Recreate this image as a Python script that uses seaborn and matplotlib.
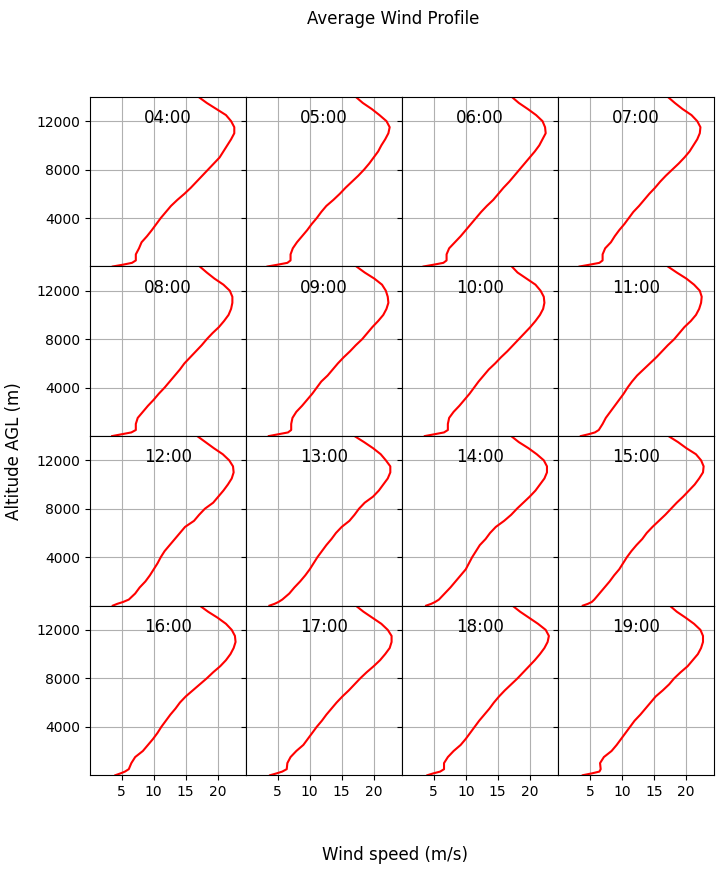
import matplotlib
matplotlib.use("Agg")
import matplotlib.pyplot as plt
import seaborn as sns
import pandas as pd

hours = ["04:00", "05:00", "06:00", "07:00", "08:00", "09:00", "10:00", "11:00",
         "12:00", "13:00", "14:00", "15:00", "16:00", "17:00", "18:00", "19:00"]

altitude = [0, 150, 300, 500, 1000, 1500, 2000, 2500, 3000, 3500, 4000, 4500, 5000,
            5500, 6000, 6500, 7000, 7500, 8000, 8500, 9000, 9500, 10000, 10500,
            11000, 11500, 12000, 12500, 13000, 13500, 14000, 14500]

speed_04 = [3.6, 5.2, 6.6, 7.2, 7.2, 7.7, 8.1, 8.95, 9.7, 10.4, 11.1, 11.9, 12.7, 13.7, 14.8, 15.8,
            16.7, 17.6, 18.5, 19.4, 20.3, 20.9, 21.5, 22.1, 22.6, 22.6, 22.1, 21.3, 19.8, 18.3, 17.0, 15.7]
speed_05 = [3.4, 5.0, 6.5, 7.0, 7.0, 7.35, 8.0, 8.8, 9.6, 10.3, 11.1, 11.8, 12.6, 13.7, 14.7, 15.6,
            16.6, 17.6, 18.5, 19.3, 20.0, 20.7, 21.2, 21.8, 22.3, 22.5, 22.0, 20.9, 19.7, 18.3, 17.2, 16.0]
speed_06 = [3.4, 5.0, 6.5, 7.0, 7.0, 7.4, 8.3, 9.2, 10.0, 10.8, 11.6, 12.4, 13.3, 14.3, 15.1, 15.9,
            16.8, 17.6, 18.4, 19.2, 20.0, 20.8, 21.5, 22.0, 22.5, 22.4, 22.0, 21.0, 19.7, 18.3, 17.2, 16.0]
speed_07 = [3.4, 5.0, 6.5, 7.0, 7.0, 7.4, 8.3, 8.9, 9.6, 10.4, 11.1, 11.8, 12.7, 13.5, 14.3, 15.2,
            16.0, 16.9, 17.9, 18.9, 19.8, 20.6, 21.2, 21.8, 22.2, 22.3, 21.8, 20.9, 19.5, 18.3, 17.2, 16.0]
speed_08 = [3.5, 5.0, 6.5, 7.2, 7.2, 7.5, 8.3, 9.1, 10.0, 10.8, 11.7, 12.5, 13.3, 14.1, 14.8, 15.7,
            16.6, 17.5, 18.3, 19.2, 20.2, 21.0, 21.7, 22.1, 22.3, 22.3, 21.9, 20.9, 19.5, 18.3, 17.2, 16.0]
speed_09 = [3.6, 5.1, 6.6, 7.1, 7.1, 7.3, 7.9, 8.8, 9.6, 10.4, 11.1, 11.8, 12.8, 13.6, 14.4, 15.3,
            16.3, 17.2, 18.2, 19.0, 19.8, 20.7, 21.5, 22.0, 22.3, 22.2, 21.9, 21.3, 20.1, 18.6, 17.3, 16.0]
speed_10 = [3.6, 5.1, 6.6, 7.2, 7.2, 7.4, 8.1, 9.0, 9.8, 10.6, 11.3, 12.0, 12.8, 13.6, 14.6, 15.5,
            16.5, 17.4, 18.3, 19.2, 20.1, 20.9, 21.6, 22.1, 22.3, 22.2, 21.7, 20.9, 19.5, 18.1, 17.2, 16.0]
speed_11 = [3.6, 4.8, 5.8, 6.4, 7.0, 7.5, 8.2, 8.9, 9.6, 10.3, 10.9, 11.6, 12.4, 13.4, 14.4, 15.4,
            16.3, 17.2, 18.2, 19.0, 19.8, 20.8, 21.6, 22.1, 22.4, 22.5, 22.2, 21.3, 20.1, 18.6, 17.2, 16.0]
speed_12 = [3.6, 4.3, 5.2, 6.1, 7.1, 7.8, 8.7, 9.4, 10.0, 10.6, 11.1, 11.7, 12.5, 13.3, 14.1, 14.9,
            16.3, 17.1, 18.0, 19.3, 20.1, 20.9, 21.6, 22.2, 22.5, 22.4, 21.8, 20.8, 19.4, 18.1, 16.8, 15.6]
speed_13 = [3.7, 4.5, 5.1, 5.7, 6.8, 7.6, 8.5, 9.3, 10.0, 10.6, 11.2, 11.9, 12.6, 13.4, 14.1, 15.0,
            16.2, 17.0, 17.7, 18.6, 19.9, 20.8, 21.5, 22.2, 22.6, 22.6, 21.9, 21.1, 19.9, 18.5, 17.0, 15.8]
speed_14 = [3.8, 4.6, 5.2, 5.8, 6.7, 7.6, 8.4, 9.2, 10.0, 10.5, 11.0, 11.6, 12.2, 13.1, 13.8, 14.7,
            16.0, 17.1, 18.0, 19.0, 20.0, 20.9, 21.6, 22.3, 22.7, 22.7, 22.2, 21.1, 19.8, 18.3, 17.1, 15.8]
speed_15 = [3.9, 4.7, 5.3, 5.7, 6.5, 7.3, 8.1, 8.8, 9.6, 10.2, 10.8, 11.5, 12.3, 13.2, 13.9, 14.8,
            15.8, 16.8, 17.7, 18.6, 19.6, 20.5, 21.4, 22.1, 22.7, 22.8, 22.4, 21.6, 20.1, 18.8, 17.3, 16.0]
speed_16 = [4.0, 4.8, 5.5, 6.1, 6.5, 7.1, 8.3, 9.1, 9.9, 10.6, 11.2, 11.9, 12.6, 13.4, 14.1, 15.0,
            16.1, 17.2, 18.3, 19.3, 20.4, 21.3, 22.0, 22.5, 22.8, 22.7, 22.2, 21.3, 20.0, 18.5, 17.2, 16.0]
speed_17 = [3.8, 4.8, 5.7, 6.4, 6.5, 7.0, 7.9, 9.0, 9.7, 10.4, 11.1, 11.9, 12.6, 13.4, 14.2, 15.1,
            16.1, 17.0, 17.9, 18.9, 20.0, 21.0, 21.8, 22.5, 22.8, 22.8, 22.2, 21.2, 19.8, 18.4, 17.2, 16.0]
speed_18 = [4.0, 4.9, 6.0, 6.6, 6.6, 7.2, 8.1, 9.2, 10.0, 10.7, 11.4, 12.1, 12.9, 13.7, 14.4, 15.2,
            16.1, 17.1, 18.1, 19.0, 19.9, 20.8, 21.6, 22.3, 22.8, 23.0, 22.5, 21.3, 19.9, 18.5, 17.3, 16.0]
speed_19 = [3.9, 5.3, 6.5, 6.7, 6.6, 7.2, 8.4, 9.2, 9.9, 10.6, 11.3, 12.0, 12.9, 13.7, 14.5, 15.3,
            16.4, 17.4, 18.2, 19.2, 20.3, 21.1, 21.9, 22.4, 22.7, 22.7, 22.3, 21.3, 20.0, 18.6, 17.5, 16.2]

speeds = [speed_04, speed_05, speed_06, speed_07, speed_08, speed_09, speed_10, speed_11,
          speed_12, speed_13, speed_14, speed_15, speed_16, speed_17, speed_18, speed_19]

x_ticks = [5, 10, 15, 20]
y_ticks = [4000, 8000, 12000]

fig, axes = plt.subplots(4, 4, sharex=True, sharey=True, figsize=(7.24, 8.73), dpi=100)
fig.subplots_adjust(left=0.124, right=0.986, top=0.889, bottom=0.112, wspace=0, hspace=0)

for ax, hour, spd in zip(axes.flat, hours, speeds):
    df = pd.DataFrame({"speed": spd, "alt": altitude})
    sns.lineplot(data=df, x="speed", y="alt", ax=ax, color="red", sort=False,
                 estimator=None, orient="y", linewidth=1.5)
    ax.set_xlabel("")
    ax.set_ylabel("")
    ax.grid(True, color="#b0b0b0", linewidth=0.8)
    ax.set_axisbelow(True)
    ax.text(0.5, 0.876, hour, transform=ax.transAxes, ha="center", va="center", fontsize=12)

axes[0, 0].set_xlim(0, 24.4)
axes[0, 0].set_ylim(0, 14000)
axes[0, 0].set_xticks(x_ticks)
axes[0, 0].set_yticks(y_ticks)

fig.suptitle("Average Wind Profile", fontsize=12, x=0.543, y=0.988)
fig.supxlabel("Wind speed (m/s)", fontsize=12, x=0.545)
fig.supylabel("Altitude AGL (m)", fontsize=12, x=0.007, y=0.483)

fig.savefig("out.png", dpi=100)
